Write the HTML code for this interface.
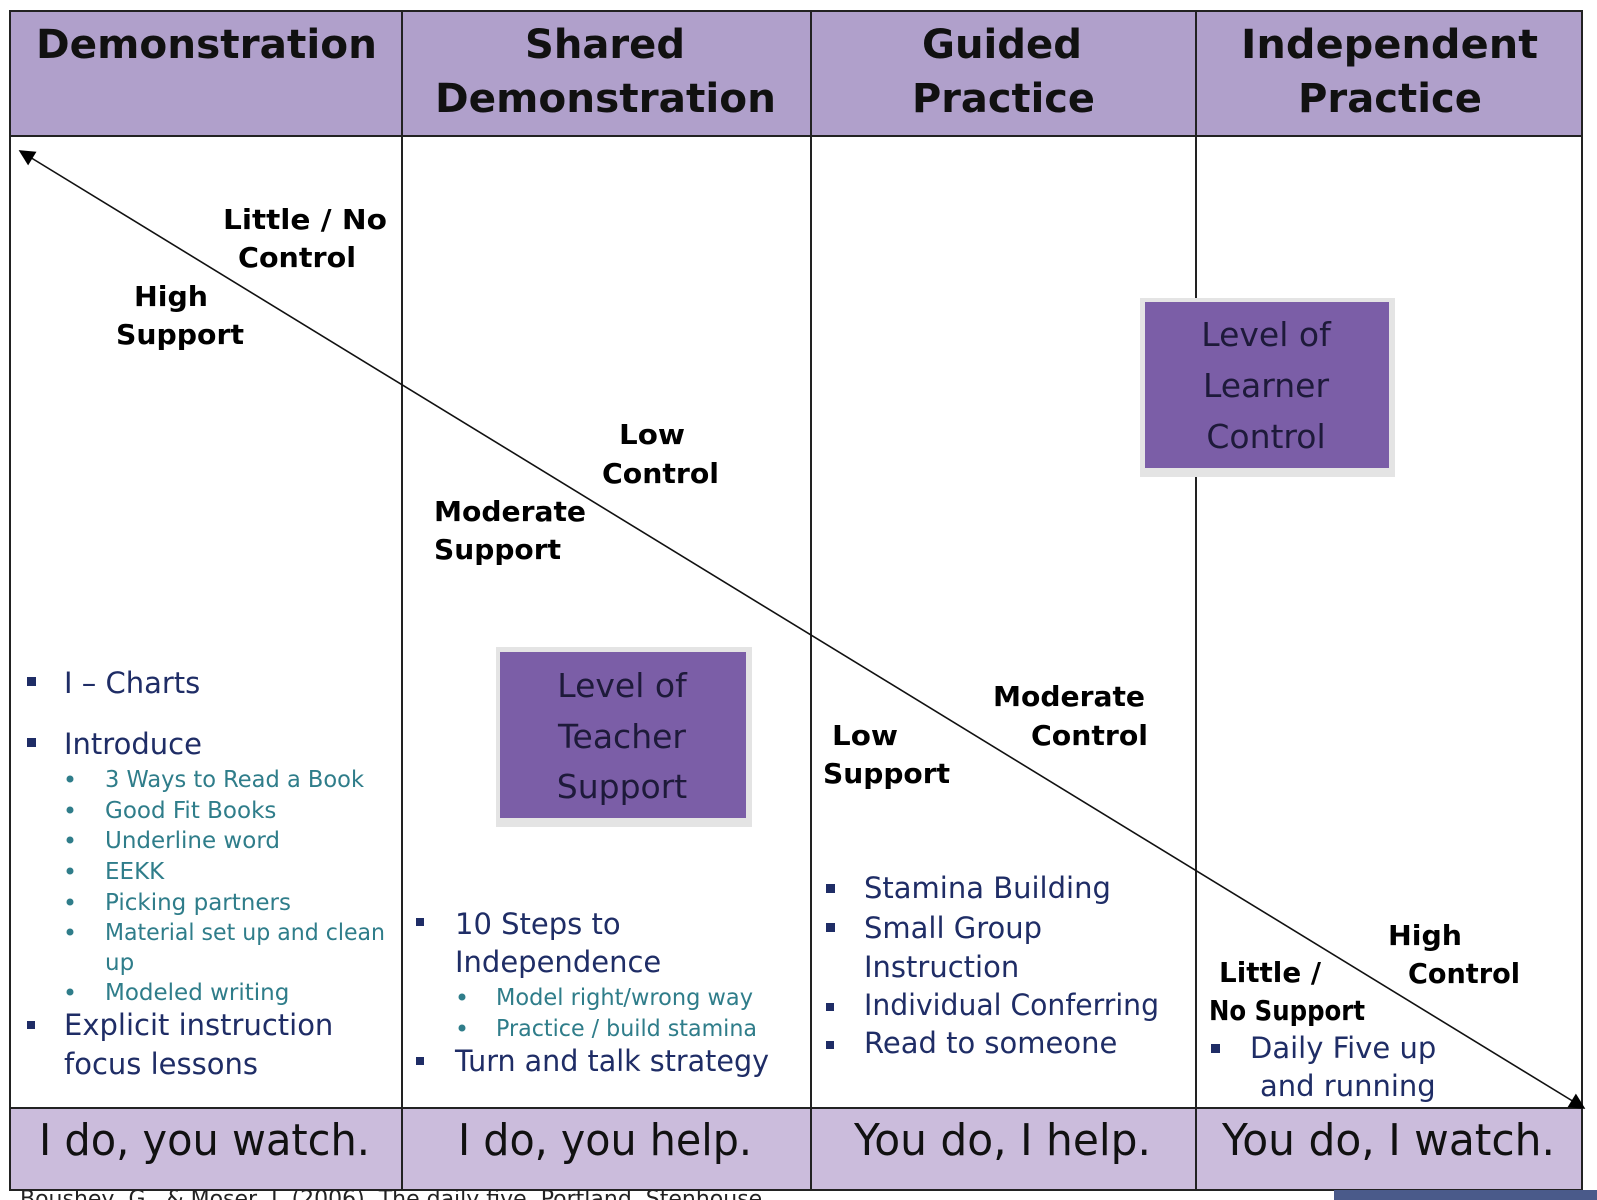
<!DOCTYPE html>
<html><head><meta charset="utf-8"><style>html,body{margin:0;padding:0;background:#fff}svg{display:block}</style></head>
<body>
<svg width="1597" height="1200" viewBox="0 0 1597 1200" xmlns="http://www.w3.org/2000/svg" font-family="'DejaVu Sans','Liberation Sans',sans-serif">
<defs>
<marker id="ah" viewBox="0 0 10 10" refX="9" refY="5" markerWidth="20" markerHeight="16" orient="auto-start-reverse" markerUnits="userSpaceOnUse"><path d="M0,0 L10,5 L0,10 z" fill="#000"/></marker>
</defs>
<rect x="10" y="11" width="1572" height="125" fill="#b0a0cb"/>
<rect x="10" y="1108" width="1572" height="82" fill="#cbbcdc"/>
<rect x="10" y="11" width="1572" height="1179" fill="none" stroke="#222" stroke-width="2"/>
<line x1="10" y1="136" x2="1582" y2="136" stroke="#222" stroke-width="2"/>
<line x1="10" y1="1108" x2="1582" y2="1108" stroke="#222" stroke-width="2"/>
<line x1="402" y1="11" x2="402" y2="1190" stroke="#222" stroke-width="2"/>
<line x1="811" y1="11" x2="811" y2="1190" stroke="#222" stroke-width="2"/>
<line x1="1196" y1="11" x2="1196" y2="1190" stroke="#222" stroke-width="2"/>
<rect x="1334" y="1190" width="263" height="10" fill="#4a5a8a"/>
<text x="20" y="1206" font-size="22" fill="#222">Boushey, G., &amp; Moser, J. (2006). The daily five. Portland, Stenhouse</text>

<g font-weight="bold" fill="#111" font-size="40">
<text x="36" y="58" textLength="341" lengthAdjust="spacingAndGlyphs">Demonstration</text>
<text x="525" y="58" textLength="160" lengthAdjust="spacingAndGlyphs">Shared</text>
<text x="435" y="112" textLength="341" lengthAdjust="spacingAndGlyphs">Demonstration</text>
<text x="922" y="58" textLength="160" lengthAdjust="spacingAndGlyphs">Guided</text>
<text x="912" y="112" textLength="183" lengthAdjust="spacingAndGlyphs">Practice</text>
<text x="1241" y="58" textLength="297" lengthAdjust="spacingAndGlyphs">Independent</text>
<text x="1298" y="112" textLength="184" lengthAdjust="spacingAndGlyphs">Practice</text>
</g>

<line x1="20" y1="151" x2="1584" y2="1108" stroke="#111" stroke-width="1.6" marker-start="url(#ah)" marker-end="url(#ah)"/>

<g font-weight="bold" fill="#000" font-size="28">
<text x="223" y="229" textLength="164" lengthAdjust="spacingAndGlyphs">Little / No</text>
<text x="238" y="267" textLength="118" lengthAdjust="spacingAndGlyphs">Control</text>
<text x="134" y="306" textLength="74" lengthAdjust="spacingAndGlyphs">High</text>
<text x="116" y="344" textLength="128" lengthAdjust="spacingAndGlyphs">Support</text>
<text x="619" y="444" textLength="66" lengthAdjust="spacingAndGlyphs">Low</text>
<text x="602" y="483" textLength="117" lengthAdjust="spacingAndGlyphs">Control</text>
<text x="434" y="521" textLength="152" lengthAdjust="spacingAndGlyphs">Moderate</text>
<text x="434" y="559" textLength="127" lengthAdjust="spacingAndGlyphs">Support</text>
<text x="993" y="706" textLength="152" lengthAdjust="spacingAndGlyphs">Moderate</text>
<text x="1031" y="745" textLength="117" lengthAdjust="spacingAndGlyphs">Control</text>
<text x="832" y="745" textLength="66" lengthAdjust="spacingAndGlyphs">Low</text>
<text x="823" y="783" textLength="127" lengthAdjust="spacingAndGlyphs">Support</text>
<text x="1388" y="945" textLength="74" lengthAdjust="spacingAndGlyphs">High</text>
<text x="1408" y="983" textLength="112" lengthAdjust="spacingAndGlyphs">Control</text>
<text x="1219" y="982" textLength="102" lengthAdjust="spacingAndGlyphs">Little /</text>
<text x="1209" y="1020" textLength="156" lengthAdjust="spacingAndGlyphs">No  Support</text>
</g>

<rect x="1140" y="298" width="255" height="179" fill="#e4e4e4"/>
<rect x="1145" y="302" width="244" height="166" fill="#7b5ea7"/>
<g font-size="33" fill="#1e1a3a" text-anchor="middle">
<text x="1266" y="346">Level of</text><text x="1266" y="397">Learner</text><text x="1266" y="448">Control</text>
</g>
<rect x="496" y="647" width="256" height="180" fill="#e4e4e4"/>
<rect x="500" y="652" width="246" height="166" fill="#7b5ea7"/>
<g font-size="33" fill="#1e1a3a" text-anchor="middle">
<text x="622" y="697">Level of</text><text x="622" y="748">Teacher</text><text x="622" y="798">Support</text>
</g>

<g fill="#1f2d66">
<rect x="27" y="677" width="9" height="9"/><rect x="27" y="738" width="9" height="9"/><rect x="27" y="1021" width="8" height="8"/>
<rect x="416" y="918" width="8" height="8"/><rect x="416" y="1057" width="8" height="8"/>
<rect x="826" y="884" width="9" height="9"/><rect x="826" y="923" width="9" height="9"/><rect x="826" y="1003" width="8" height="8"/><rect x="826" y="1041" width="8" height="8"/>
<rect x="1211" y="1044" width="9" height="9"/>
</g>
<g font-size="29" fill="#1f2d66">
<text x="64" y="693">I – Charts</text>
<text x="64" y="754">Introduce</text>
<text x="64" y="1035">Explicit instruction</text>
<text x="64" y="1074">focus lessons</text>
<text x="455" y="934">10 Steps to</text>
<text x="455" y="972">Independence</text>
<text x="455" y="1071" textLength="314" lengthAdjust="spacingAndGlyphs">Turn and talk strategy</text>
<text x="864" y="898">Stamina Building</text>
<text x="864" y="938">Small Group</text>
<text x="864" y="977">Instruction</text>
<text x="864" y="1015" textLength="295" lengthAdjust="spacingAndGlyphs">Individual Conferring</text>
<text x="864" y="1053">Read to someone</text>
<text x="1250" y="1058">Daily Five up</text>
<text x="1260" y="1096">and running</text>
</g>
<g fill="#2f7d8a">
<circle cx="70" cy="779" r="3.5"/><circle cx="70" cy="810" r="3.5"/><circle cx="70" cy="840" r="3.5"/><circle cx="70" cy="871" r="3.5"/><circle cx="70" cy="902" r="3.5"/><circle cx="70" cy="932" r="3.5"/><circle cx="70" cy="992" r="3.5"/>
<circle cx="462" cy="997" r="3.5"/><circle cx="462" cy="1028" r="3.5"/>
</g>
<g font-size="23" fill="#2f7d8a">
<text x="105" y="787" textLength="259" lengthAdjust="spacingAndGlyphs">3 Ways to Read a Book</text>
<text x="105" y="818">Good Fit Books</text>
<text x="105" y="848">Underline word</text>
<text x="105" y="879">EEKK</text>
<text x="105" y="910">Picking partners</text>
<text x="105" y="940" textLength="280" lengthAdjust="spacingAndGlyphs">Material set up and clean</text>
<text x="105" y="970">up</text>
<text x="105" y="1000">Modeled writing</text>
<text x="496" y="1005" textLength="257" lengthAdjust="spacingAndGlyphs">Model right/wrong way</text>
<text x="496" y="1036" textLength="261" lengthAdjust="spacingAndGlyphs">Practice / build stamina</text>
</g>

<g font-size="44" fill="#111">
<text x="39" y="1155" textLength="331" lengthAdjust="spacingAndGlyphs">I do, you watch.</text>
<text x="458" y="1155" textLength="294" lengthAdjust="spacingAndGlyphs">I do, you help.</text>
<text x="854" y="1155" textLength="297" lengthAdjust="spacingAndGlyphs">You do, I help.</text>
<text x="1222" y="1155" textLength="333" lengthAdjust="spacingAndGlyphs">You do, I watch.</text>
</g>
</svg>
</body></html>
